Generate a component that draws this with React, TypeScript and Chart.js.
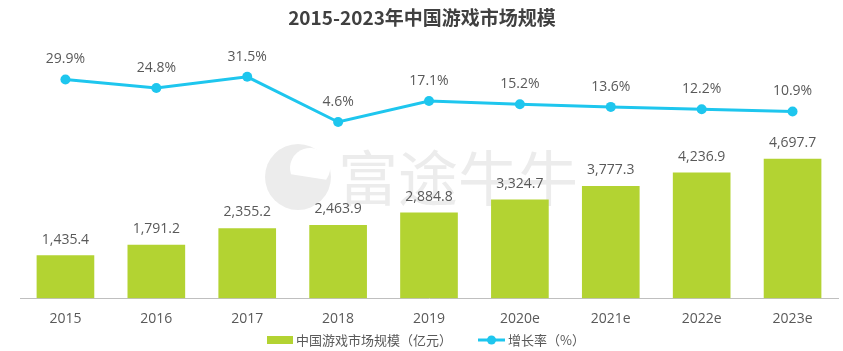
import React, { useEffect, useRef } from "react";
import { Chart, registerables } from "chart.js";

Chart.register(...registerables);

const categories = ["2015", "2016", "2017", "2018", "2019", "2020e", "2021e", "2022e", "2023e"];
const marketSize = [1435.4, 1791.2, 2355.2, 2463.9, 2884.8, 3324.7, 3777.3, 4236.9, 4697.7];
const growthRate = [29.9, 24.8, 31.5, 4.6, 17.1, 15.2, 13.6, 12.2, 10.9];
const titleText = "2015-2023年中国游戏市场规模";
const barLegend = "中国游戏市场规模（亿元）";
const lineLegend = "增长率（%）";
const watermarkText = "富途牛牛";

const BAR_COLOR = "#b3d332";
const LINE_COLOR = "#1ec6ee";
const TEXT_COLOR = "#595959";
const FONT = '"Open Sans", "Noto Sans CJK SC", sans-serif';
const CJK_FONT = '"Noto Sans CJK SC", sans-serif';

const fmt = (v: number) =>
  v.toLocaleString("en-US", { minimumFractionDigits: 1, maximumFractionDigits: 1 });

const decorPlugin = {
  id: "decor",
  beforeDatasetsDraw(chart: any) {
    const ctx = chart.ctx;
    ctx.save();
    // watermark logo
    ctx.fillStyle = "#ececec";
    ctx.beginPath();
    ctx.arc(298, 177, 33, 0, Math.PI * 2);
    ctx.fill();
    ctx.fillStyle = "#ffffff";
    ctx.beginPath();
    ctx.arc(310, 168, 20, Math.PI * 0.9, Math.PI * 2.2);
    ctx.fill();
    ctx.fillStyle = "#ececec";
    ctx.beginPath();
    ctx.arc(292, 184, 5, 0, Math.PI * 2);
    ctx.fill();
    // watermark text
    ctx.fillStyle = "#ececec";
    ctx.font = `60px ${CJK_FONT}`;
    ctx.textAlign = "left";
    ctx.textBaseline = "middle";
    ctx.fillText(watermarkText, 338, 178);
    ctx.restore();
  },
  afterDatasetsDraw(chart: any) {
    const ctx = chart.ctx;
    ctx.save();
    ctx.fillStyle = TEXT_COLOR;
    ctx.font = `14px ${FONT}`;
    ctx.textAlign = "center";
    ctx.textBaseline = "middle";
    const barMeta = chart.getDatasetMeta(0);
    barMeta.data.forEach((el: any, i: number) => {
      ctx.fillText(fmt(marketSize[i]), el.x, el.y - 16);
    });
    const lineMeta = chart.getDatasetMeta(1);
    lineMeta.data.forEach((el: any, i: number) => {
      ctx.fillText(growthRate[i].toFixed(1) + "%", el.x, el.y - 20);
    });
    ctx.restore();
  },
  afterDraw(chart: any) {
    const ctx = chart.ctx;
    ctx.save();
    // title
    ctx.fillStyle = "#404040";
    ctx.font = `bold 19px ${CJK_FONT}`;
    ctx.textAlign = "center";
    ctx.textBaseline = "middle";
    ctx.fillText(titleText, 422, 18);
    // legend
    const ly = 340;
    ctx.font = `13px ${CJK_FONT}`;
    ctx.textAlign = "left";
    ctx.fillStyle = BAR_COLOR;
    ctx.fillRect(267, ly - 4, 26, 8);
    ctx.fillStyle = TEXT_COLOR;
    ctx.fillText(barLegend, 296, ly);
    ctx.strokeStyle = LINE_COLOR;
    ctx.lineWidth = 3;
    ctx.beginPath();
    ctx.moveTo(478, ly);
    ctx.lineTo(505, ly);
    ctx.stroke();
    ctx.fillStyle = LINE_COLOR;
    ctx.beginPath();
    ctx.arc(491.5, ly, 4.5, 0, Math.PI * 2);
    ctx.fill();
    ctx.fillStyle = TEXT_COLOR;
    ctx.fillText(lineLegend, 508, ly);
    ctx.restore();
  },
};

export default function App() {
  const ref = useRef<HTMLCanvasElement | null>(null);

  useEffect(() => {
    if (!ref.current) return;
    const chart = new Chart(ref.current, {
      type: "bar",
      data: {
        labels: categories,
        datasets: [
          {
            type: "bar",
            label: barLegend,
            data: marketSize,
            backgroundColor: BAR_COLOR,
            barThickness: 57,
            yAxisID: "y",
            order: 1,
          },
          {
            type: "line",
            label: lineLegend,
            data: growthRate,
            borderColor: LINE_COLOR,
            backgroundColor: LINE_COLOR,
            borderWidth: 3,
            pointRadius: 5,
            pointBorderWidth: 0,
            pointBackgroundColor: LINE_COLOR,
            tension: 0,
            yAxisID: "y1",
            order: 0,
          },
        ],
      },
      options: {
        responsive: false,
        animation: false,
        layout: { padding: { top: 40, left: 20, right: 4, bottom: 12 } },
        plugins: {
          legend: { display: false },
          title: { display: false },
          tooltip: { enabled: false },
        },
        scales: {
          x: {
            grid: { display: false, drawTicks: false },
            border: { display: true, color: "#bfbfbf", width: 1 },
            ticks: {
              color: TEXT_COLOR,
              font: { family: FONT, size: 14 },
              padding: 12,
            },
          },
          y: { display: false, min: 0, max: 8720 },
          y1: { display: false, min: -100.2, max: 53.4, position: "right" },
        },
      },
      plugins: [decorPlugin],
    });
    return () => chart.destroy();
  }, []);

  return (
    <div style={{ position: "fixed", left: 0, top: 0, width: 843, height: 351, background: "#fff" }}>
      <canvas ref={ref} width={843} height={351} style={{ width: 843, height: 351 }} />
    </div>
  );
}
